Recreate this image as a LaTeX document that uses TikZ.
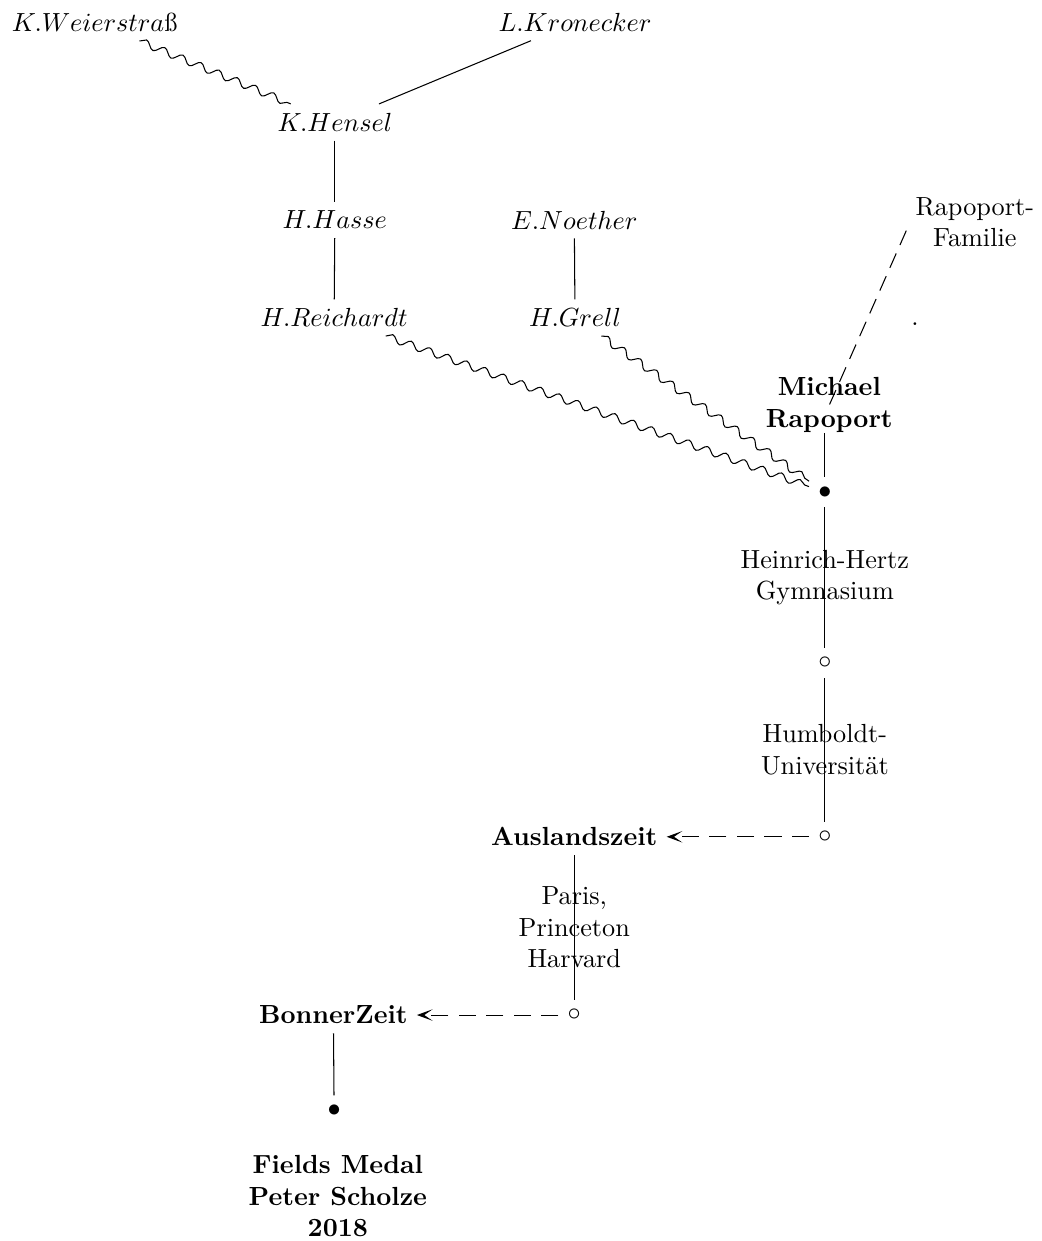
\documentclass[tikz,border=0pt]{standalone}
\usepackage{amsmath,amssymb}
\usepackage{tikz}
\usetikzlibrary{arrows.meta,decorations.pathmorphing}
\tikzset{
  link/.style={draw, line width=0.4pt},
  wave/.style={draw, decorate, decoration={snake, amplitude=1.4pt, segment length=7.5pt, post length=1pt}},
  jump/.style={draw, dash pattern=on 6.5pt off 4pt, -{Stealth[length=6pt, width=4.4pt, inset=3.2pt]}},
  famline/.style={draw, dash pattern=on 6pt off 3.5pt},
  stage/.style={font=\bfseries, align=center},
  place/.style={align=center}
}

\begin{document}
\begin{tikzpicture}
  \useasboundingbox (0,0) rectangle (13.97,-16.64);

  % teachers
  \node (wei) at (1.27,-0.30) {$K.Weierstra\text{ß}$};
  \node (kro) at (7.71,-0.30) {$L.Kronecker$};
  \node (hen) at (4.49,-1.64) {$K.Hensel$};
  \node (has) at (4.49,-2.95) {$H.Hasse$};
  \node (noe) at (7.70,-2.95) {$E.Noether$};
  \node (rei) at (4.48,-4.26) {$H.Reichardt$};
  \node (gre) at (7.71,-4.26) {$H.Grell$};
  \node[place] (fam) at (13.07,-2.98) {Rapoport-\\Familie};
  \node (pt) at (12.27,-4.34) {.};

  % path of the student
  \node[stage, inner sep=0pt] (mr) at (11.12,-5.43) {Michael\\Rapoport};
  \node (d1) at (11.06,-6.60) {$\bullet$};
  \node (c1) at (11.06,-8.89) {$\circ$};
  \node (c2) at (11.06,-11.22) {$\circ$};
  \node[stage] (aus) at (7.70,-11.22) {Auslandszeit};
  \node (c3) at (7.70,-13.61) {$\circ$};
  \node[stage] (bon) at (4.47,-13.61) {BonnerZeit};
  \node (d2) at (4.48,-14.89) {$\bullet$};
  \node[stage] (fie) at (4.53,-16.04) {Fields Medal\\Peter Scholze\\2018};

  \draw[wave] (wei) -- (hen);
  \draw[link] (kro) -- (hen);
  \draw[link] (hen) -- (has);
  \draw[link] (has) -- (rei);
  \draw[link] (noe) -- (gre);
  \draw[wave] (rei) -- (d1);
  \draw[wave] (gre) -- (d1);
  \draw[famline] (fam.187) -- (mr.center);

  \draw[link] (d1 |- mr.south) -- (d1);
  \draw[link] (d1) -- node[place] {Heinrich-Hertz\\Gymnasium} (c1);
  \draw[link] (c1) -- node[place] {Humboldt-\\Universität} (c2);
  \draw[jump] (c2) -- (aus);
  \draw[link] (aus) -- node[place] {Paris,\\Princeton\\Harvard} (c3);
  \draw[jump] (c3) -- (bon);
  \draw[link] (bon) -- (d2);
\end{tikzpicture}
\end{document}
